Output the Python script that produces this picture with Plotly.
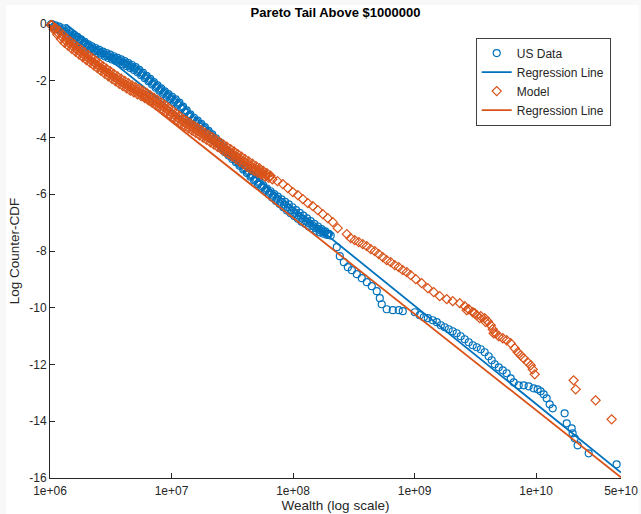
import numpy as np
import plotly.graph_objects as go

# log10 of wealth and log counter-CDF, US data
# (dense top part: two interleaved rows, then the sparse tail, then the middle row of the dense part)
us_log_wealth = [
    6.000, 6.015, 6.030, 6.045, 6.060, 6.075, 6.090, 6.105, 6.120, 6.135,
    6.150, 6.165, 6.180, 6.195, 6.210, 6.225, 6.240, 6.255, 6.270, 6.285,
    6.300, 6.315, 6.330, 6.345, 6.360, 6.375, 6.390, 6.405, 6.420, 6.435,
    6.450, 6.465, 6.480, 6.495, 6.510, 6.525, 6.540, 6.555, 6.570, 6.585,
    6.600, 6.615, 6.630, 6.645, 6.660, 6.675, 6.690, 6.705, 6.720, 6.735,
    6.750, 6.765, 6.780, 6.795, 6.810, 6.825, 6.840, 6.855, 6.870, 6.885,
    6.900, 6.915, 6.930, 6.945, 6.960, 6.975, 6.990, 7.005, 7.020, 7.035,
    7.050, 7.065, 7.080, 7.095, 7.110, 7.125, 7.140, 7.155, 7.170, 7.185,
    7.200, 7.215, 7.230, 7.245, 7.260, 7.275, 7.290, 7.305, 7.320, 7.335,
    7.350, 7.365, 7.380, 7.395, 7.410, 7.425, 7.440, 7.455, 7.470, 7.485,
    7.500, 7.515, 7.530, 7.545, 7.560, 7.575, 7.590, 7.605, 7.620, 7.635,
    7.650, 7.665, 7.680, 7.695, 7.710, 7.725, 7.740, 7.755, 7.770, 7.785,
    7.800, 7.815, 7.830, 7.845, 7.860, 7.875, 7.890, 7.905, 7.920, 7.935,
    7.950, 7.965, 7.980, 7.995, 8.010, 8.025, 8.040, 8.055, 8.070, 8.085,
    8.100, 8.115, 8.130, 8.145, 8.160, 8.175, 8.190, 8.205, 8.220, 8.235,
    8.250, 8.265, 8.280, 8.295, 8.310,
    8.360, 8.385, 8.418, 8.451, 8.484, 8.525, 8.566, 8.607, 8.648, 8.689,
    8.714, 8.730, 8.771, 8.821, 8.870, 8.903, 9.002, 9.043, 9.076, 9.109,
    9.150, 9.183, 9.216, 9.248, 9.281, 9.314, 9.347, 9.380, 9.413, 9.446,
    9.479, 9.512, 9.545, 9.577, 9.610, 9.635, 9.660, 9.693, 9.726, 9.758,
    9.791, 9.816, 9.857, 9.898, 9.939, 9.980, 10.013, 10.038, 10.063, 10.087,
    10.112, 10.137, 10.235, 10.252, 10.293, 10.301, 10.318, 10.342, 10.433, 10.663,
    6.0075, 6.0375, 6.0675, 6.0975, 6.1275, 6.1575, 6.1875, 6.2175, 6.2475, 6.2775,
    6.3075, 6.3375, 6.3675, 6.3975, 6.4275, 6.4575, 6.4875, 6.5175, 6.5475, 6.5775,
    6.6075, 6.6375, 6.6675, 6.6975, 6.7275, 6.7575, 6.7875, 6.8175, 6.8475, 6.8775,
    6.9075, 6.9375, 6.9675, 6.9975, 7.0275, 7.0575, 7.0875, 7.1175, 7.1475, 7.1775,
    7.2075, 7.2375, 7.2675, 7.2975, 7.3275, 7.3575, 7.3875, 7.4175, 7.4475, 7.4775,
    7.5075, 7.5375, 7.5675, 7.5975, 7.6275, 7.6575, 7.6875, 7.7175, 7.7475, 7.7775,
    7.8075, 7.8375, 7.8675, 7.8975, 7.9275, 7.9575, 7.9875, 8.0175, 8.0475, 8.0775,
    8.1075, 8.1375, 8.1675, 8.1975, 8.2275, 8.2575, 8.2875,
]
us_log_ccdf = [
    0.000, -0.003, -0.105, -0.047, -0.189, -0.092, -0.264, -0.157, -0.329, -0.226,
    -0.403, -0.300, -0.477, -0.374, -0.551, -0.454, -0.636, -0.541, -0.726, -0.632,
    -0.817, -0.718, -0.899, -0.790, -0.961, -0.852, -1.022, -0.913, -1.084, -0.972,
    -1.139, -1.027, -1.194, -1.082, -1.249, -1.137, -1.305, -1.194, -1.362, -1.250,
    -1.418, -1.311, -1.483, -1.377, -1.551, -1.445, -1.618, -1.520, -1.702, -1.615,
    -1.807, -1.720, -1.912, -1.826, -2.020, -1.936, -2.132, -2.048, -2.244, -2.160,
    -2.356, -2.271, -2.466, -2.374, -2.561, -2.469, -2.656, -2.564, -2.751, -2.659,
    -2.847, -2.774, -2.980, -2.909, -3.118, -3.047, -3.256, -3.184, -3.392, -3.304,
    -3.495, -3.407, -3.599, -3.515, -3.711, -3.635, -3.839, -3.764, -3.968, -3.892,
    -4.096, -4.026, -4.235, -4.166, -4.377, -4.308, -4.518, -4.437, -4.636, -4.556,
    -4.755, -4.674, -4.873, -4.795, -4.997, -4.922, -5.126, -5.051, -5.255, -5.180,
    -5.384, -5.309, -5.513, -5.438, -5.642, -5.567, -5.771, -5.687, -5.882, -5.797,
    -6.001, -5.895, -6.119, -5.993, -6.236, -6.087, -6.348, -6.179, -6.460, -6.270,
    -6.570, -6.360, -6.669, -6.459, -6.768, -6.558, -6.867, -6.657, -6.966, -6.750,
    -7.044, -6.849, -7.133, -6.947, -7.211, -7.045, -7.289, -7.137, -7.344, -7.227,
    -7.389, -7.311, -7.433, -7.396, -7.458,
    -7.865, -8.183, -8.394, -8.571, -8.676, -8.817, -8.959, -9.100, -9.241, -9.417,
    -9.664, -9.876, -10.052, -10.087, -10.087, -10.122, -10.158, -10.263, -10.334, -10.369,
    -10.440, -10.510, -10.616, -10.687, -10.757, -10.828, -10.898, -11.004, -11.110, -11.216,
    -11.322, -11.392, -11.463, -11.569, -11.710, -11.851, -11.992, -12.098, -12.204, -12.309,
    -12.486, -12.627, -12.733, -12.733, -12.768, -12.838, -12.874, -12.944, -13.050, -13.191,
    -13.403, -13.544, -13.720, -14.073, -14.249, -14.425, -14.602, -14.849, -15.131, -15.519,
    -0.017, -0.081, -0.146, -0.211, -0.278, -0.352, -0.426, -0.503, -0.589, -0.679,
    -0.768, -0.845, -0.907, -0.968, -1.028, -1.083, -1.138, -1.193, -1.250, -1.306,
    -1.365, -1.430, -1.498, -1.569, -1.659, -1.764, -1.869, -1.978, -2.090, -2.202,
    -2.314, -2.420, -2.515, -2.610, -2.705, -2.811, -2.945, -3.083, -3.220, -3.348,
    -3.451, -3.557, -3.673, -3.802, -3.930, -4.061, -4.201, -4.343, -4.478, -4.596,
    -4.715, -4.834, -4.960, -5.089, -5.218, -5.347, -5.476, -5.605, -5.729, -5.840,
    -5.948, -6.056, -6.162, -6.264, -6.365, -6.465, -6.564, -6.663, -6.762, -6.858,
    -6.947, -7.035, -7.123, -7.208, -7.281, -7.345, -7.410,
]

# log10 of wealth and log counter-CDF, model simulation
model_log_wealth = [
    6.000, 6.015, 6.030, 6.045, 6.060, 6.075, 6.090, 6.105, 6.120, 6.135,
    6.150, 6.165, 6.180, 6.195, 6.210, 6.225, 6.240, 6.255, 6.270, 6.285,
    6.300, 6.315, 6.330, 6.345, 6.360, 6.375, 6.390, 6.405, 6.420, 6.435,
    6.450, 6.465, 6.480, 6.495, 6.510, 6.525, 6.540, 6.555, 6.570, 6.585,
    6.600, 6.615, 6.630, 6.645, 6.660, 6.675, 6.690, 6.705, 6.720, 6.735,
    6.750, 6.765, 6.780, 6.795, 6.810, 6.825, 6.840, 6.855, 6.870, 6.885,
    6.900, 6.915, 6.930, 6.945, 6.960, 6.975, 6.990, 7.005, 7.020, 7.035,
    7.050, 7.065, 7.080, 7.095, 7.110, 7.125, 7.140, 7.155, 7.170, 7.185,
    7.200, 7.215, 7.230, 7.245, 7.260, 7.275, 7.290, 7.305, 7.320, 7.335,
    7.350, 7.365, 7.380, 7.395, 7.410, 7.425, 7.440, 7.455, 7.470, 7.485,
    7.500, 7.515, 7.530, 7.545, 7.560, 7.575, 7.590, 7.605, 7.620, 7.635,
    7.650, 7.665, 7.680, 7.695, 7.710, 7.725, 7.740, 7.755, 7.770, 7.785,
    7.800, 7.815, 7.830, 7.872,
    7.916, 7.957, 7.998, 8.040, 8.081, 8.122, 8.163, 8.204, 8.245, 8.286,
    8.327, 8.368, 8.443, 8.475, 8.508, 8.541, 8.574, 8.607, 8.640, 8.673,
    8.706, 8.739, 8.771, 8.804, 8.837, 8.870, 8.903, 8.936, 8.969, 9.010,
    9.059, 9.109, 9.158, 9.207, 9.265, 9.314, 9.372, 9.413, 9.429, 9.446,
    9.479, 9.495, 9.512, 9.536, 9.545, 9.577, 9.586, 9.602, 9.627, 9.643,
    9.651, 9.668, 9.693, 9.726, 9.758, 9.791, 9.824, 9.849, 9.873, 9.898,
    9.931, 9.956, 9.972, 9.989, 10.309, 10.326, 10.490, 10.622,
    6.0075, 6.0375, 6.0675, 6.0975, 6.1275, 6.1575, 6.1875, 6.2175, 6.2475, 6.2775,
    6.3075, 6.3375, 6.3675, 6.3975, 6.4275, 6.4575, 6.4875, 6.5175, 6.5475, 6.5775,
    6.6075, 6.6375, 6.6675, 6.6975, 6.7275, 6.7575, 6.7875, 6.8175, 6.8475, 6.8775,
    6.9075, 6.9375, 6.9675, 6.9975, 7.0275, 7.0575, 7.0875, 7.1175, 7.1475, 7.1775,
    7.2075, 7.2375, 7.2675, 7.2975, 7.3275, 7.3575, 7.3875, 7.4175, 7.4475, 7.4775,
    7.5075, 7.5375, 7.5675, 7.5975, 7.6275, 7.6575, 7.6875, 7.7175, 7.7475, 7.7775,
    7.8075,
]
model_log_ccdf = [
    0.000, -0.041, -0.191, -0.142, -0.372, -0.243, -0.533, -0.380, -0.667, -0.499,
    -0.770, -0.602, -0.873, -0.705, -0.976, -0.806, -1.075, -0.903, -1.171, -1.000,
    -1.268, -1.096, -1.364, -1.193, -1.461, -1.290, -1.558, -1.387, -1.655, -1.483,
    -1.751, -1.576, -1.841, -1.666, -1.931, -1.756, -2.021, -1.844, -2.106, -1.926,
    -2.186, -2.007, -2.267, -2.087, -2.347, -2.160, -2.413, -2.225, -2.477, -2.289,
    -2.541, -2.355, -2.609, -2.430, -2.691, -2.512, -2.772, -2.593, -2.854, -2.676,
    -2.938, -2.761, -3.024, -2.850, -3.116, -2.946, -3.215, -3.045, -3.314, -3.143,
    -3.412, -3.242, -3.511, -3.334, -3.596, -3.417, -3.677, -3.498, -3.758, -3.578,
    -3.838, -3.659, -3.920, -3.742, -4.003, -3.825, -4.086, -3.908, -4.169, -3.991,
    -4.253, -4.075, -4.336, -4.158, -4.419, -4.241, -4.502, -4.324, -4.585, -4.407,
    -4.669, -4.494, -4.758, -4.583, -4.847, -4.672, -4.936, -4.760, -5.024, -4.844,
    -5.103, -4.921, -5.179, -5.007, -5.245, -5.093, -5.310, -5.178, -5.376, -5.260,
    -5.423, -5.347, -5.471, -5.540,
    -5.643, -5.784, -5.925, -6.031, -6.172, -6.313, -6.419, -6.560, -6.701, -6.842,
    -6.983, -7.195, -7.406, -7.548, -7.618, -7.689, -7.759, -7.830, -7.936, -8.006,
    -8.112, -8.218, -8.324, -8.394, -8.500, -8.571, -8.676, -8.747, -8.853, -8.994,
    -9.135, -9.311, -9.452, -9.593, -9.699, -9.770, -9.840, -9.946, -10.087, -10.052,
    -10.158, -10.193, -10.263, -10.369, -10.299, -10.369, -10.510, -10.475, -10.616, -10.757,
    -10.898, -10.898, -11.004, -11.075, -11.145, -11.251, -11.427, -11.568, -11.674, -11.780,
    -11.922, -12.027, -12.169, -12.345, -12.556, -12.874, -13.262, -13.932,
    -0.036, -0.177, -0.318, -0.457, -0.583, -0.686, -0.789, -0.891, -0.989, -1.086,
    -1.182, -1.279, -1.376, -1.473, -1.569, -1.664, -1.754, -1.844, -1.933, -2.016,
    -2.097, -2.177, -2.254, -2.319, -2.383, -2.448, -2.520, -2.602, -2.683, -2.765,
    -2.850, -2.937, -3.031, -3.130, -3.229, -3.327, -3.423, -3.507, -3.588, -3.668,
    -3.749, -3.831, -3.914, -3.997, -4.080, -4.164, -4.247, -4.330, -4.413, -4.496,
    -4.582, -4.671, -4.760, -4.848, -4.934, -5.012, -5.088, -5.164, -5.239, -5.313,
    -5.380,
]

# fitted regression lines: (intercept at $1e6, slope per decade of wealth)
us_fit = (0.45, -3.46)
model_fit = (-0.05, -3.39)

x_tick_vals = [1e6, 1e7, 1e8, 1e9, 1e10, 5e10]
x_tick_text = ["1e+06", "1e+07", "1e+08", "1e+09", "1e+10", "5e+10"]
y_tick_vals = [0, -2, -4, -6, -8, -10, -12, -14, -16]
y_tick_text = ["0", "-2", "-4", "-6", "-8", "-10", "-12", "-14", "-16"]

BLUE = "#0072BD"
ORANGE = "#D95319"
AXIS = "#262626"
FONT = "Liberation Sans, Arial, sans-serif"

x_lo, x_hi = 1e6, 5e10
fit_x = np.array([x_lo, x_hi])


def fit_line(params):
    a, b = params
    return a + b * (np.log10(fit_x) - 6.0)


fig = go.Figure()
fig.add_trace(go.Scatter(
    x=10 ** np.array(us_log_wealth), y=us_log_ccdf, mode="markers", name="US Data",
    marker=dict(symbol="circle-open", size=7, color=BLUE, line=dict(width=1.2, color=BLUE)),
    cliponaxis=False,
))
fig.add_trace(go.Scatter(
    x=fit_x, y=fit_line(us_fit), mode="lines", name="Regression Line",
    line=dict(color=BLUE, width=1.8),
))
fig.add_trace(go.Scatter(
    x=10 ** np.array(model_log_wealth), y=model_log_ccdf, mode="markers", name="Model",
    marker=dict(symbol="diamond-open", size=7, color=ORANGE, line=dict(width=1.2, color=ORANGE)),
    cliponaxis=False,
))
fig.add_trace(go.Scatter(
    x=fit_x, y=fit_line(model_fit), mode="lines", name="Regression Line",
    line=dict(color=ORANGE, width=1.8),
))

fig.update_layout(
    width=641, height=514,
    margin=dict(l=50, r=20, t=24, b=36, pad=0),
    paper_bgcolor="#f8f8f8",
    plot_bgcolor="white",
    font=dict(family=FONT, size=12, color=AXIS),
    title=dict(text="<b>Pareto Tail Above $1000000</b>", x=0.5, xref="paper",
               y=1 - 12 / 514, yanchor="middle", font=dict(size=13, color="black")),
    showlegend=True,
    legend=dict(x=0.982, xanchor="right", y=0.97, yanchor="top",
                bgcolor="white", bordercolor="#404040", borderwidth=1,
                font=dict(size=12, color=AXIS), tracegroupgap=0),
    shapes=[dict(type="rect", xref="paper", yref="paper", x0=-0.077, x1=1.031,
                 y0=-0.085, y1=1.042, fillcolor="white", line=dict(width=0), layer="below")],
)
fig.update_xaxes(
    type="log", range=[np.log10(x_lo), np.log10(x_hi)], automargin=False,
    tickvals=x_tick_vals, ticktext=x_tick_text, ticklabelstandoff=2,
    ticks="inside", ticklen=5, tickcolor=AXIS, showline=True, linecolor=AXIS, linewidth=1,
    mirror=False, showgrid=False, zeroline=False,
    title=dict(text="Wealth (log scale)", font=dict(size=13.5, color=AXIS), standoff=0),
)
fig.update_yaxes(
    range=[-16, 0], automargin=False, tickvals=y_tick_vals, ticktext=y_tick_text,
    ticks="inside", ticklen=5, tickcolor=AXIS, showline=True, linecolor=AXIS, linewidth=1,
    mirror=False, showgrid=False, zeroline=False,
    title=dict(text="Log Counter-CDF", font=dict(size=13.5, color=AXIS), standoff=6),
)

fig.write_html("out.html")
